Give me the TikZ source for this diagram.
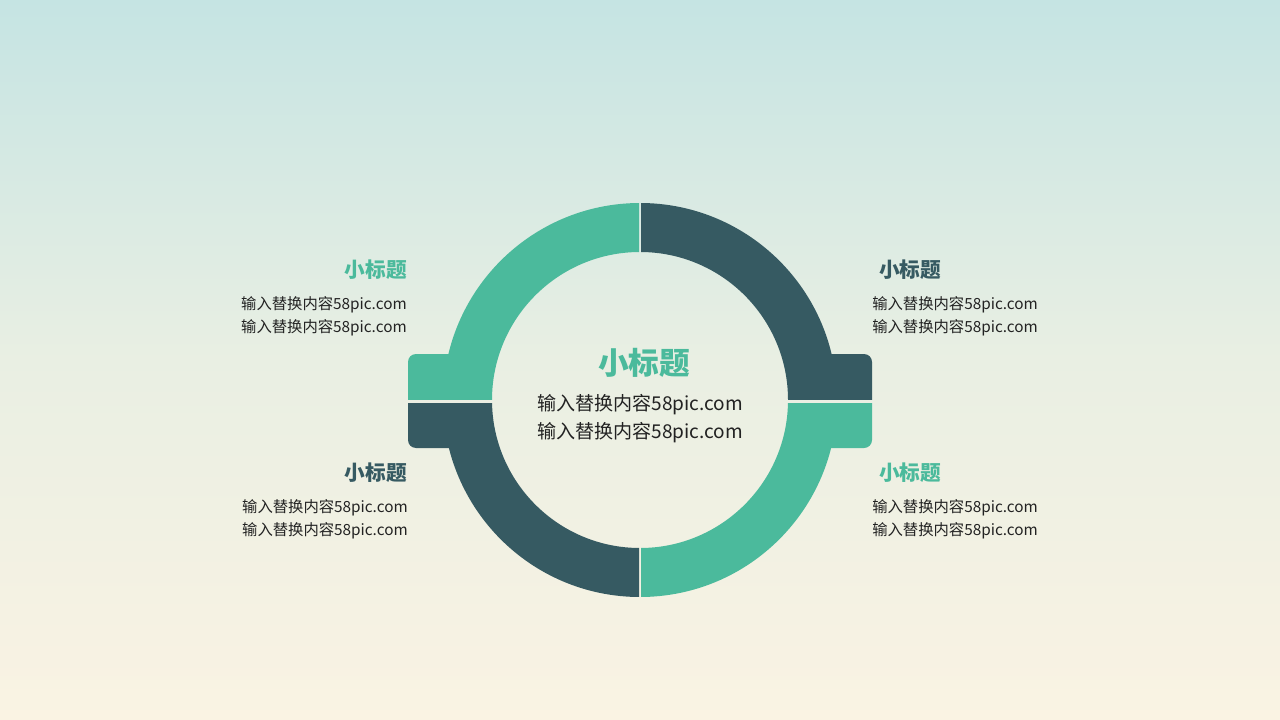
\documentclass[tikz,border=0pt]{standalone}
\usepackage{fontspec}
\setmainfont{Noto Sans CJK SC}
\newfontfamily\cjk{Noto Sans CJK SC}
\definecolor{ringgreen}{HTML}{4BBA9C}
\definecolor{ringdark}{HTML}{365A62}
\definecolor{bgtop}{HTML}{C5E4E3}
\definecolor{bgmid}{HTML}{E9EFE3}
\definecolor{bgbot}{HTML}{FAF3E3}
\definecolor{bodytext}{HTML}{222222}
\tikzset{
  titlelbl/.style={font=\fontsize{15.5}{18}\selectfont\bfseries, inner sep=0pt},
  bodylbl/.style={font=\fontsize{11.5}{17.2}\selectfont, text=bodytext, inner sep=0pt, align=#1},
  ctitle/.style={font=\fontsize{23}{26}\selectfont\bfseries, text=ringgreen, inner sep=0pt},
  cbody/.style={font=\fontsize{14.3}{21}\selectfont, text=bodytext, inner sep=0pt, align=center},
}
\begin{document}
\begin{tikzpicture}[x=0.75pt,y=-0.75pt]
\useasboundingbox (0,0) rectangle (1280,720);
\shade[top color=bgtop, bottom color=bgbot, middle color=bgmid] (0,0) rectangle (1280,720);
% top-left (green)
\begin{scope}
\clip (300,150) rectangle (639,399.5);
\fill[ringgreen, even odd rule] (640,400) circle[radius=197] (640,400) circle[radius=148];
\fill[ringgreen, rounded corners=6pt] (480,354) -- (408,354) -- (408,410) -- (480,410) -- cycle;
\end{scope}
% bottom-left (dark)
\begin{scope}
\clip (300,403) rectangle (639,650);
\fill[ringdark, even odd rule] (640,400) circle[radius=197] (640,400) circle[radius=148];
\fill[ringdark, rounded corners=6pt] (480,395) -- (408,395) -- (408,448) -- (480,448) -- cycle;
\end{scope}
% top-right (dark)
\begin{scope}
\clip (641,150) rectangle (980,399.5);
\fill[ringdark, even odd rule] (640,400) circle[radius=197] (640,400) circle[radius=148];
\fill[ringdark, rounded corners=6pt] (800,354) -- (872,354) -- (872,410) -- (800,410) -- cycle;
\end{scope}
% bottom-right (green)
\begin{scope}
\clip (641,403) rectangle (980,650);
\fill[ringgreen, even odd rule] (640,400) circle[radius=197] (640,400) circle[radius=148];
\fill[ringgreen, rounded corners=6pt] (800,395) -- (872,395) -- (872,448) -- (800,448) -- cycle;
\end{scope}
% centre
\node[ctitle] (ct) at (644,363) {小标题};
\node[cbody] (cb) at (640,419) {输入替换内容58pic.com\\输入替换内容58pic.com};
% left top
\node[titlelbl, text=ringgreen, anchor=east] (t1) at (407,270) {小标题};
\node[bodylbl=right, anchor=north east] (b1) at (407,296) {输入替换内容58pic.com\\输入替换内容58pic.com};
% left bottom
\node[titlelbl, text=ringdark, anchor=east] (t2) at (407,473) {小标题};
\node[bodylbl=right, anchor=north east] (b2) at (408,499) {输入替换内容58pic.com\\输入替换内容58pic.com};
% right top
\node[titlelbl, text=ringdark, anchor=west] (t3) at (879,270) {小标题};
\node[bodylbl=left, anchor=north west] (b3) at (872,296) {输入替换内容58pic.com\\输入替换内容58pic.com};
% right bottom
\node[titlelbl, text=ringgreen, anchor=west] (t4) at (879,473) {小标题};
\node[bodylbl=left, anchor=north west] (b4) at (872,499) {输入替换内容58pic.com\\输入替换内容58pic.com};
\end{tikzpicture}
\end{document}
